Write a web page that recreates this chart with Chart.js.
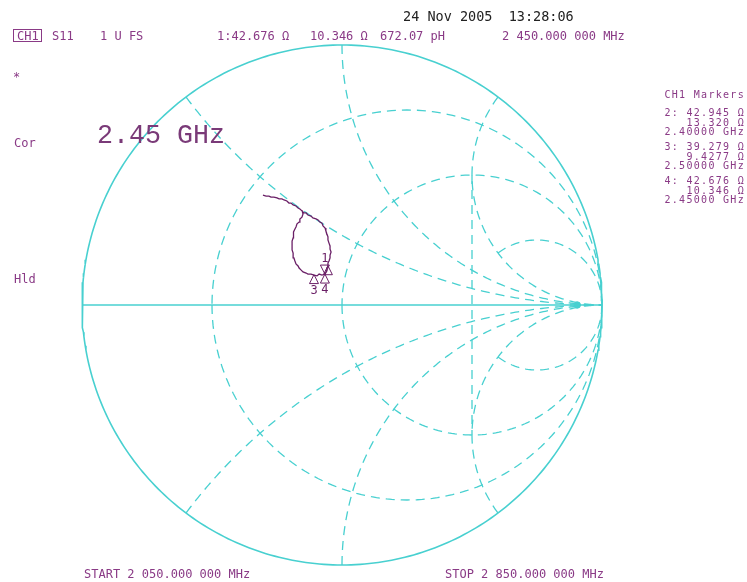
<!DOCTYPE html>
<html>
<head>
<meta charset="utf-8">
<script src="https://cdn.jsdelivr.net/npm/chart.js@4/dist/chart.umd.min.js"></script>
<style>
  html, body { margin: 0; padding: 0; background: #fff; }
  canvas { display: block; }
</style>
</head>
<body>
<canvas id="smith" width="747" height="582"></canvas>
<script>
// graticule values, normalised to Z0
const gridR = [1 / 3, 1, 3];
const gridX = [0.5, 1, 2];
const clipR = 3;      // this circle is only drawn where |x| >= clipX
const clipX = 2;

// S11 trace, reflection coefficient (2.05 -> 2.85 GHz)
const traceRe = [-0.304, -0.292, -0.281, -0.273, -0.262, -0.250, -0.242, -0.231, -0.223, -0.212,
  -0.204, -0.196, -0.188, -0.177, -0.169, -0.162, -0.154, -0.146, -0.138, -0.131,
  -0.119, -0.112, -0.100, -0.092, -0.085, -0.077, -0.073, -0.065, -0.062, -0.058,
  -0.054, -0.054, -0.050, -0.046, -0.046, -0.042, -0.046, -0.046, -0.050, -0.054,
  -0.054, -0.058, -0.058, -0.065, -0.077, -0.088, -0.096, -0.108, -0.119, -0.131,
  -0.138, -0.150, -0.158, -0.165, -0.169, -0.177, -0.181, -0.185, -0.188, -0.188,
  -0.192, -0.192, -0.192, -0.192, -0.188, -0.188, -0.185, -0.181, -0.177, -0.173,
  -0.165, -0.162, -0.154, -0.150, -0.154];
const traceIm = [0.423, 0.419, 0.419, 0.415, 0.415, 0.412, 0.408, 0.408, 0.404, 0.400,
  0.392, 0.392, 0.385, 0.381, 0.373, 0.369, 0.362, 0.354, 0.354, 0.346,
  0.342, 0.335, 0.331, 0.327, 0.319, 0.315, 0.304, 0.296, 0.285, 0.273,
  0.262, 0.250, 0.238, 0.227, 0.215, 0.204, 0.192, 0.181, 0.169, 0.162,
  0.150, 0.142, 0.131, 0.119, 0.115, 0.119, 0.112, 0.115, 0.119, 0.119,
  0.123, 0.127, 0.135, 0.142, 0.150, 0.158, 0.169, 0.181, 0.188, 0.200,
  0.212, 0.223, 0.235, 0.246, 0.258, 0.269, 0.281, 0.292, 0.300, 0.312,
  0.319, 0.331, 0.338, 0.350, 0.365];

// markers (ohms, Z0 = 50)
const z0 = 50;
const activeMarker = 1;
const markerIds = [1, 2, 3, 4];
const markerR = [42.676, 42.945, 39.279, 42.676];
const markerX = [10.346, 13.320, 9.4277, 10.346];
const markerLabelShown = [true, false, true, true];

const cyan = "#48d0d0";
const purple = "#8a3a86";
const traceColor = "#6a1f66";

function gamma(r, x) {
  const den = (r + 1) * (r + 1) + x * x;
  return { x: (r * r + x * x - 1) / den, y: 2 * x / den };
}

function arc(cx, cy, rad, a0, a1, n) {
  const pts = [];
  for (let i = 0; i <= n; i++) {
    const a = a0 + (a1 - a0) * i / n;
    pts.push({ x: cx + rad * Math.cos(a), y: cy + rad * Math.sin(a) });
  }
  return pts;
}

const datasets = [];
function addLine(data, dashed, width, order) {
  datasets.push({
    data: data, showLine: true, pointRadius: 0, fill: false, tension: 0,
    borderColor: cyan, borderWidth: width, borderDash: dashed ? [9, 6] : [],
    order: order, clip: false
  });
}

// trace on top
datasets.push({
  data: traceRe.map((v, i) => ({ x: v, y: traceIm[i] })),
  showLine: true, pointRadius: 0, fill: false, tension: 0,
  borderColor: traceColor, borderWidth: 1.3, order: 0
});

// outer circle and real axis
addLine(arc(0, 0, 1, 0, 2 * Math.PI, 360), false, 1.6, 1);
addLine([{ x: -1, y: 0 }, { x: 1, y: 0 }], false, 1.6, 1);

// resistance circles
gridR.forEach(r => {
  const c = r / (1 + r), rad = 1 / (1 + r);
  if (r === clipR) {
    const g = gamma(r, clipX);
    const a = Math.atan2(g.y, g.x - c);
    addLine(arc(c, 0, rad, 0, a, 80), true, 1.3, 2);
    addLine(arc(c, 0, rad, 0, -a, 80), true, 1.3, 2);
  } else {
    addLine(arc(c, 0, rad, -Math.PI, Math.PI, 240), true, 1.3, 2);
  }
});

// reactance arcs, both signs
gridX.forEach(x => {
  const g0 = gamma(0, x);
  let a0 = Math.atan2(g0.y - 1 / x, g0.x - 1);
  if (a0 < 0) a0 += 2 * Math.PI;
  const up = arc(1, 1 / x, 1 / x, a0, 1.5 * Math.PI, 200);
  addLine(up, true, 1.3, 2);
  addLine(up.map(p => ({ x: p.x, y: -p.y })), true, 1.3, 2);
});

// straight piece joining the x = +-2 arcs
addLine([gamma(1, clipX), gamma(1, -clipX)], true, 1.3, 2);

// small reference blob near the open end
datasets.push({
  data: [{ x: 0.905, y: 0 }], pointRadius: 3.2, pointStyle: "circle",
  backgroundColor: cyan, borderColor: cyan, showLine: false, order: 1
});

const screenText = {
  id: "screenText",
  afterDatasetsDraw(chart) {
    const ctx = chart.ctx;
    const xs = chart.scales.x, ys = chart.scales.y;
    ctx.save();
    ctx.textBaseline = "alphabetic";

    // markers
    ctx.strokeStyle = traceColor;
    ctx.fillStyle = traceColor;
    ctx.lineWidth = 1;
    ctx.font = '12px "DejaVu Sans Mono"';
    ctx.textAlign = "center";
    markerIds.forEach((id, i) => {
      const g = gamma(markerR[i] / z0, markerX[i] / z0);
      const px = xs.getPixelForValue(g.x), py = ys.getPixelForValue(g.y);
      ctx.beginPath();
      const dir = id === activeMarker ? -1 : 1;
      ctx.moveTo(px, py);
      ctx.lineTo(px - 4.5, py + dir * 9);
      ctx.lineTo(px + 4.5, py + dir * 9);
      ctx.closePath();
      ctx.stroke();
      if (markerLabelShown[i]) {
        ctx.fillText(String(id), px, dir < 0 ? py - 12 : py + 19);
      }
    });

    // header
    ctx.textAlign = "left";
    ctx.fillStyle = "#222";
    ctx.font = '13.5px "DejaVu Sans Mono"';
    ctx.fillText("24 Nov 2005  13:28:06", 403, 21);

    ctx.fillStyle = purple;
    ctx.strokeStyle = purple;
    ctx.font = '12px "DejaVu Sans Mono"';
    ctx.strokeRect(13.5, 29.5, 28, 12);
    ctx.fillText("CH1", 17, 39.5);
    ctx.fillText("S11", 52, 39.5);
    ctx.fillText("1 U FS", 100, 39.5);
    ctx.fillText("1:42.676 Ω", 217, 39.5);
    ctx.fillText("10.346 Ω", 310, 39.5);
    ctx.fillText("672.07 pH", 380, 39.5);
    ctx.fillText("2 450.000 000 MHz", 502, 39.5);

    // left side status
    ctx.fillText("*", 13, 81);
    ctx.fillText("Cor", 14, 147);
    ctx.fillText("Hld", 14, 283);

    // bottom
    ctx.fillText("START 2 050.000 000 MHz", 84, 578);
    ctx.fillText("STOP 2 850.000 000 MHz", 445, 578);

    // marker table
    ctx.textAlign = "right";
    ctx.font = '10px "DejaVu Sans Mono"';
    ctx.letterSpacing = "1.3px";
    const rows = [
      ["CH1 Markers", 98],
      ["2: 42.945 Ω", 116], ["13.320 Ω", 125.5], ["2.40000 GHz", 135],
      ["3: 39.279 Ω", 150], ["9.4277 Ω", 159.5], ["2.50000 GHz", 169],
      ["4: 42.676 Ω", 184], ["10.346 Ω", 193.5], ["2.45000 GHz", 203]
    ];
    rows.forEach(r => ctx.fillText(r[0], 745, r[1]));
    ctx.letterSpacing = "0px";

    // big frequency annotation
    ctx.textAlign = "left";
    ctx.fillStyle = "#7a3a78";
    ctx.font = '27px "Liberation Mono"';
    ctx.fillText("2.45 GHz", 97, 143, 128);
    ctx.restore();
  }
};

new Chart(document.getElementById("smith"), {
  type: "scatter",
  data: { datasets: datasets },
  options: {
    responsive: false,
    animation: false,
    layout: { padding: { left: 82, right: 145, top: 45, bottom: 17 } },
    scales: {
      x: { type: "linear", min: -1, max: 1, display: false },
      y: { type: "linear", min: -1, max: 1, display: false }
    },
    plugins: { legend: { display: false }, tooltip: { enabled: false } }
  },
  plugins: [screenText]
});
</script>
</body>
</html>
